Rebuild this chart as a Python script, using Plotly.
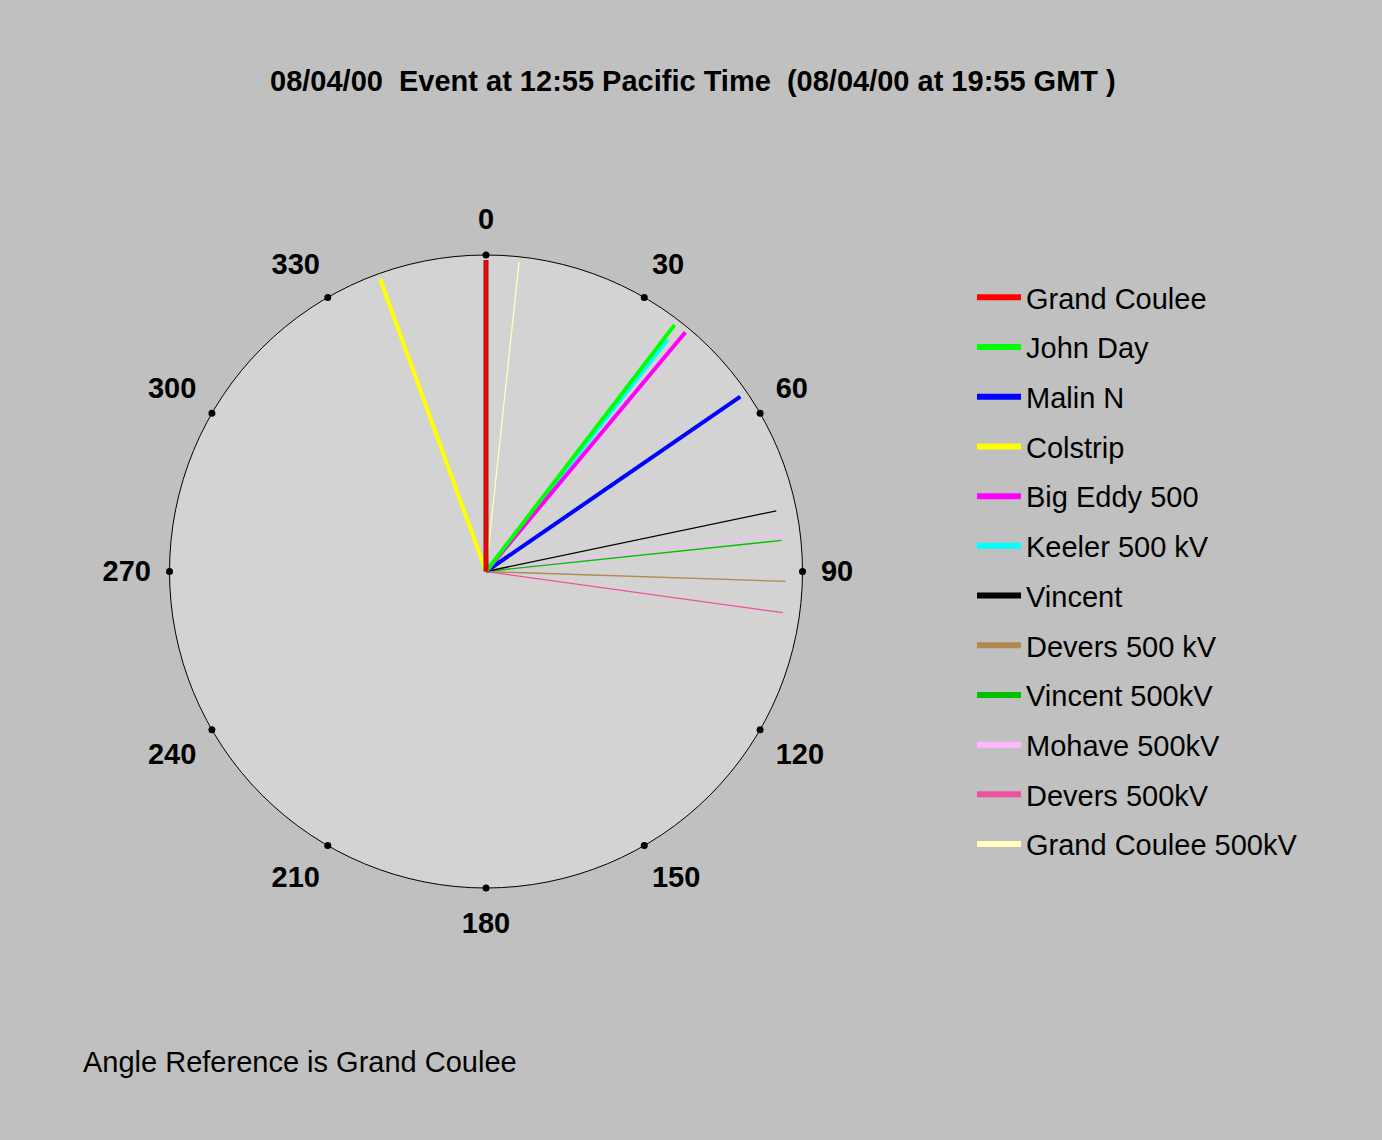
import math
import plotly.graph_objects as go

# Data (phase angle in degrees relative to Grand Coulee, relative magnitude)
stations = ["Grand Coulee", "John Day", "Malin N", "Colstrip", "Big Eddy 500",
            "Keeler 500 kV", "Vincent", "Devers 500 kV", "Vincent 500kV",
            "Mohave 500kV", "Devers 500kV", "Grand Coulee 500kV"]
angles = [0.0, 37.4, 55.5, 340.1, 39.8, 38.1, 78.2, 91.9, 84.0, 82.8, 97.9, 6.1]
magnitudes = [0.984, 0.981, 0.975, 0.983, 0.984, 0.931, 0.937, 0.947, 0.939, 0.953, 0.947, 0.983]
colors = ["#ff0000", "#00ff00", "#0000ff", "#ffff00", "#ff00ff", "#00ffff",
          "#000000", "#b08850", "#00c000", "#ffb8ff", "#f050a0", "#ffffc0"]
widths = [3, 4, 4, 4, 4, 4, 1.3, 1.3, 1.3, 1.3, 1.3, 1.3]

tick_angles = list(range(0, 360, 30))
tick_labels = [str(a) for a in tick_angles]

FONT = "Liberation Sans, Arial, sans-serif"
LABEL_SIZE = 29
W, H = 1382, 1140
CX, CY = 486.0, 568.5          # polar centre (px, from left / from bottom)
RADIUS_PX = 316.5
OUTER = 1.3                    # scale of the label ring subplot

fig = go.Figure()

# dots at tick positions on the rim
fig.add_trace(go.Scatterpolar(
    r=[1.0] * len(tick_angles), theta=tick_angles, mode="markers",
    marker=dict(color="black", size=7), showlegend=False, hoverinfo="skip",
    cliponaxis=False))

# draw order (later on top)
order = [11, 10, 9, 8, 7, 6, 3, 2, 5, 4, 1, 0]
for i in order:
    if i == 0:
        fig.add_trace(go.Scatterpolar(
            r=[0, magnitudes[0]], theta=[0, 0], mode="lines",
            line=dict(color="#802020", width=5), showlegend=False, hoverinfo="skip"))
    fig.add_trace(go.Scatterpolar(
        r=[0, magnitudes[i]], theta=[angles[i], angles[i]], mode="lines",
        line=dict(color=colors[i], width=widths[i]), name=stations[i],
        legendgroup="g%d" % i, showlegend=False))

# legend entries (thick uniform swatches as in the reference)
for i in range(len(stations)):
    fig.add_trace(go.Scatterpolar(
        r=[None], theta=[None], mode="lines",
        line=dict(color=colors[i], width=6), name=stations[i],
        legendgroup="g%d" % i, legendrank=i + 1, showlegend=True, hoverinfo="skip"))

# angular labels: nearest corner of each label box anchored just outside the rim
anchor_px = RADIUS_PX + 21.5
half_h = 14.0
baseline_fix = 2.0   # plotly's 'middle' sits slightly above the glyph centre
label_r, label_t = [], []
for a, t in zip(tick_angles, tick_labels):
    th = math.radians(a)
    s, c = math.sin(th), math.cos(th)
    half_w = 0.556 * LABEL_SIZE * len(t) / 2.0 - 3.0
    sx = 0 if abs(s) < 1e-6 else (1 if s > 0 else -1)
    sy = 0 if abs(c) < 1e-6 else (1 if c > 0 else -1)
    dx = anchor_px * s + sx * half_w
    dy = anchor_px * c + sy * half_h - baseline_fix   # dy measured upward
    label_r.append(math.hypot(dx, dy) / RADIUS_PX)
    label_t.append(math.degrees(math.atan2(dx, dy)) % 360)
fig.add_trace(go.Scatterpolar(
    r=label_r, theta=label_t, mode="text", text=tick_labels,
    textposition="middle center", subplot="polar2",
    textfont=dict(size=LABEL_SIZE, family=FONT, color="black", weight="bold"),
    showlegend=False, hoverinfo="skip", cliponaxis=False))

title_text = "08/04/00\u00a0\u00a0Event at 12:55 Pacific Time\u00a0\u00a0(08/04/00 at 19:55 GMT )"

R2 = RADIUS_PX * OUTER
fig.update_layout(
    width=W, height=H,
    paper_bgcolor="#c0c0c0",
    margin=dict(l=0, r=0, t=0, b=0),
    font=dict(family=FONT, color="black"),
    polar2=dict(
        domain=dict(x=[(CX - R2) / W, (CX + R2) / W], y=[(CY - R2) / H, (CY + R2) / H]),
        bgcolor="rgba(0,0,0,0)",
        radialaxis=dict(range=[0, OUTER], visible=False),
        angularaxis=dict(rotation=90, direction="clockwise", ticks="",
                         showticklabels=False, showgrid=False, showline=False),
    ),
    polar=dict(
        domain=dict(x=[(CX - RADIUS_PX) / W, (CX + RADIUS_PX) / W],
                    y=[(CY - RADIUS_PX) / H, (CY + RADIUS_PX) / H]),
        bgcolor="#d3d3d3",
        radialaxis=dict(range=[0, 1], visible=False),
        angularaxis=dict(
            rotation=90, direction="clockwise",
            tickmode="array", tickvals=tick_angles, ticktext=tick_labels,
            ticks="", showticklabels=False,
            showgrid=False, linecolor="black", linewidth=1,
        ),
    ),
    legend=dict(
        x=972 / W, y=1 - 272 / H, xanchor="left", yanchor="top",
        bgcolor="rgba(0,0,0,0)", font=dict(size=29),
        tracegroupgap=9, itemwidth=44,
    ),
    annotations=[
        dict(text="<b>" + title_text + "</b>", x=693 / W, y=1 - 81 / H,
             xref="paper", yref="paper", showarrow=False, font=dict(size=29),
             xanchor="center", yanchor="middle"),
        dict(text="Angle Reference is Grand Coulee", x=81 / W, y=1 - 1062 / H,
             xref="paper", yref="paper", showarrow=False, font=dict(size=29),
             xanchor="left", yanchor="middle"),
    ],
)

fig.write_html("out.html", config={"displayModeBar": False},
               post_script="document.body.style.margin='0';document.body.style.padding='0';")
